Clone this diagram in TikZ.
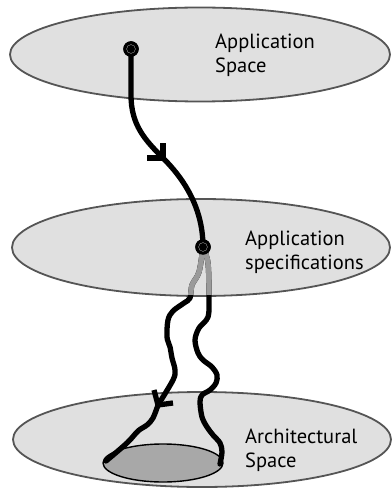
\documentclass[tikz,border=0pt]{standalone}
\usepackage{fontspec}
\setmainfont{PT Sans}
\usetikzlibrary{calc}
\definecolor{planefill}{HTML}{E0E0E0}
\definecolor{planeedge}{HTML}{555555}
\definecolor{basefill}{HTML}{A8A8A8}
\definecolor{faded}{HTML}{9A9A9A}
\begin{document}
\begin{tikzpicture}[x=1pt,y=-1pt,
  plane/.style={draw=planeedge,fill=planefill,line width=1.8pt},
  wire/.style={line width=5.3pt,line cap=round,line join=round},
  barbline/.style={line width=5.3pt,line cap=butt,line join=miter},
  fadedwire/.style={wire,draw=faded},
  dot/.style={circle,fill=black,inner sep=0pt,minimum size=15.5pt},
  lbl/.style={anchor=base west,inner sep=0pt,font=\fontsize{20.5}{24}\selectfont}]
\useasboundingbox (0,0) rectangle (391,489);
% planes
\path[plane] (200,54.5) ellipse [x radius=190,y radius=47];
\path[plane] (201,247.5) ellipse [x radius=189,y radius=48.5];
\path[plane] (202,439.5) ellipse [x radius=189,y radius=47.5];
% base ellipse
\path[draw=black,fill=basefill,line width=1.4pt] (163,463) ellipse [x radius=60,y radius=19];
\coordinate (bw) at (106,461);
\coordinate (be) at (220,464);
% labels
\node[lbl] (t1a) at (215,49) {Application};
\node[lbl] (t1b) at (215,73) {Space};
\node[lbl] (t2a) at (245,245) {Application};
\node[lbl] (t2b) at (245,269) {specifications};
\node[lbl] (t3a) at (245,443) {Architectural};
\node[lbl] (t3b) at (245,467) {Space};
% dots
\node[dot] (d1) at (131,49) {};
\node[dot] (d2) at (203,247) {};
\coordinate (a1) at (163,158);
\coordinate (a2) at (158,405);
% top wire
\draw[wire] (d1.center) -- (131,95) .. controls (131,125) and (145,140) .. (a1);
\draw[wire] (a1) .. controls (181,176) and (203,205) .. (d2.center);
\draw[barbline] ($(a1)+(-16,0)$) -- (a1) -- ($(a1)+(0,-15)$);
% branches
\draw[wire] plot[smooth,tension=0.55] coordinates {(d2.center) (199,272) (192,285) (190,298) (184,303) (173,311) (168,320) (167,337) (170,347) (172,358) (175,370) (173,380) (a2)};
\draw[wire] plot[smooth,tension=0.55] coordinates {(a2) (153,418) (147,425) (138,431) (127,443) (bw)};
\draw[barbline] ($(a2)+(-4,-15)$) -- (a2) -- ($(a2)+(15,-2)$);
\draw[wire] plot[smooth,tension=0.55] coordinates {(d2.center) (208,263) (209,297) (208,317) (199,328) (195,340) (198,353) (203,360) (212,367) (217,375) (216,383) (210,390) (202,395) (200,402) (202,417) (207,427) (213,435) (220,443) (222,452) (be)};
% faded part inside middle plane
\begin{scope}
\clip (201,247.5) ellipse [x radius=188,y radius=47.5];
\draw[fadedwire] plot[smooth,tension=0.55] coordinates {(d2.center) (199,272) (192,285) (190,298) (184,303) (173,311)};
\draw[fadedwire] plot[smooth,tension=0.55] coordinates {(d2.center) (208,263) (209,297) (208,317) (199,328)};
\end{scope}
% dots on top
\node[dot] at (d1) {};
\node[dot] at (d2) {};
\draw[faded,line width=0.4pt] (d1) circle [radius=4.4];
\draw[faded,line width=0.4pt] (d2) circle [radius=4.4];
\end{tikzpicture}
\end{document}
